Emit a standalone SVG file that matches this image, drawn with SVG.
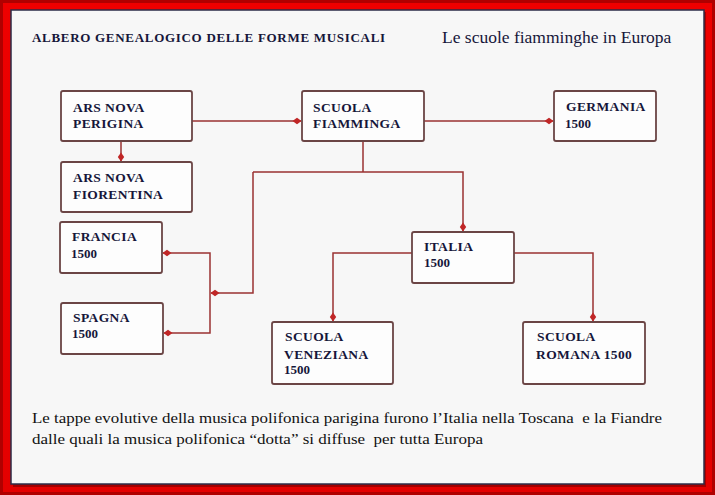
<svg xmlns="http://www.w3.org/2000/svg" width="715" height="495" viewBox="0 0 715 495">
<defs>
<style>
.box{fill:#fdfdfd;stroke:#6b4545;stroke-width:1.8}
.lbl{font-family:"Liberation Serif",serif;font-weight:bold;font-size:13.5px;fill:#16163a;letter-spacing:0.4px}
.yr{font-family:"Liberation Serif",serif;font-weight:bold;font-size:13px;fill:#16163a}
.con{fill:none;stroke:#9a3232;stroke-width:1.5}
.note{font-family:"Liberation Serif",serif;font-size:15.5px;fill:#111;white-space:pre}
</style>
<marker id="dm" markerUnits="userSpaceOnUse" markerWidth="10" markerHeight="8" refX="9" refY="4" orient="auto">
<path d="M0.5,4 L5,0.8 L9.5,4 L5,7.2 z" fill="#c02626"/>
</marker>
<linearGradient id="fr" x1="0" y1="0" x2="0" y2="1">
<stop offset="0" stop-color="#ee0000"/><stop offset="1" stop-color="#e40000"/>
</linearGradient>
</defs>
<rect x="0" y="0" width="715" height="495" fill="url(#fr)"/>
<rect x="1.5" y="1.5" width="712" height="492" fill="none" stroke="#b00000" stroke-width="3"/>
<rect x="13" y="12" width="693" height="475" fill="#7a0000" opacity="0.6"/>
<rect x="11" y="10" width="693" height="474" fill="#f7f7f7" stroke="#2c2c48" stroke-width="1.5"/>

<g id="titles">
<text x="32" y="42" font-family="Liberation Serif, serif" font-weight="bold" font-size="13" fill="#16163a" letter-spacing="0.7">ALBERO GENEALOGICO DELLE FORME MUSICALI</text>
<text x="442" y="43" font-family="Liberation Serif, serif" font-size="17.5" fill="#16163a">Le scuole fiamminghe in Europa</text>
</g>

<g id="connectors">
<path class="con" d="M192,121 H301" marker-end="url(#dm)"/>
<path class="con" d="M121,141 V161" marker-end="url(#dm)"/>
<path class="con" d="M424,121 H553" marker-end="url(#dm)"/>
<path class="con" d="M363,141 V172"/>
<path class="con" d="M253,172 H463 V231" marker-end="url(#dm)"/>
<path class="con" d="M253,172 V293 H211" marker-end="url(#dm)"/>
<path class="con" d="M210,293 V253 H163" marker-end="url(#dm)"/>
<path class="con" d="M210,293 V333 H164" marker-end="url(#dm)"/>
<path class="con" d="M412,253 H333 V321" marker-end="url(#dm)"/>
<path class="con" d="M514,253 H593 V321" marker-end="url(#dm)"/>
</g>

<g id="ars-nova-perigina">
<rect class="box" x="61" y="91" width="131" height="50" rx="2"/>
<text class="lbl" x="73" y="112">ARS NOVA</text>
<text class="lbl" x="73" y="128">PERIGINA</text>
</g>
<g id="ars-nova-fiorentina">
<rect class="box" x="61" y="162" width="131" height="50" rx="2"/>
<text class="lbl" x="73" y="182">ARS NOVA</text>
<text class="lbl" x="73" y="199">FIORENTINA</text>
</g>
<g id="scuola-fiamminga">
<rect class="box" x="302" y="91" width="122" height="50" rx="2"/>
<text class="lbl" x="313" y="112" letter-spacing="1.6">SCUOLA</text>
<text class="lbl" x="313" y="128">FIAMMINGA</text>
</g>
<g id="germania">
<rect class="box" x="554" y="91" width="102" height="50" rx="2"/>
<text class="lbl" x="566" y="111">GERMANIA</text>
<text class="yr" x="565" y="128">1500</text>
</g>
<g id="francia">
<rect class="box" x="60" y="222" width="102" height="51" rx="2"/>
<text class="lbl" x="72" y="241">FRANCIA</text>
<text class="yr" x="71" y="258">1500</text>
</g>
<g id="spagna">
<rect class="box" x="61" y="303" width="102" height="51" rx="2"/>
<text class="lbl" x="73" y="322" letter-spacing="1.2">SPAGNA</text>
<text class="yr" x="72" y="338">1500</text>
</g>
<g id="italia">
<rect class="box" x="412" y="232" width="102" height="51" rx="2"/>
<text class="lbl" x="424" y="251" letter-spacing="1.2">ITALIA</text>
<text class="yr" x="424" y="267">1500</text>
</g>
<g id="scuola-veneziana">
<rect class="box" x="272" y="322" width="121" height="62" rx="2"/>
<text class="lbl" x="285" y="341" letter-spacing="1.6">SCUOLA</text>
<text class="lbl" x="284" y="359">VENEZIANA</text>
<text class="yr" x="284" y="374">1500</text>
</g>
<g id="scuola-romana">
<rect class="box" x="523" y="322" width="122" height="62" rx="2"/>
<text class="lbl" x="537" y="341" letter-spacing="1.6">SCUOLA</text>
<text class="lbl" x="536" y="359">ROMANA 1500</text>
</g>

<g id="note">
<text class="note" x="32" y="423" textLength="630" lengthAdjust="spacingAndGlyphs" xml:space="preserve">Le tappe evolutive della musica polifonica parigina furono l’Italia nella Toscana  e la Fiandre</text>
<text class="note" x="32" y="444" textLength="451" lengthAdjust="spacingAndGlyphs" xml:space="preserve">dalle quali la musica polifonica “dotta” si diffuse  per tutta Europa</text>
</g>
</svg>
